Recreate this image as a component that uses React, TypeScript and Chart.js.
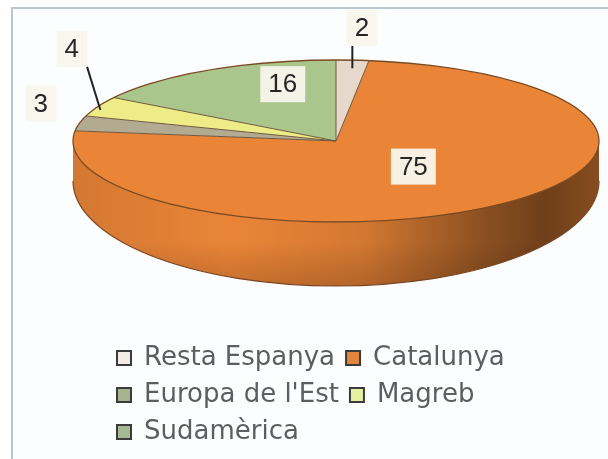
import React, { useEffect, useRef } from "react";
import { Chart, registerables } from "chart.js";

Chart.register(...registerables);

// ---- data ----
const categories = ["Resta Espanya", "Catalunya", "Europa de l'Est", "Magreb", "Sudamèrica"];
const values = [2, 75, 3, 4, 16];
const topColors = ["#e6d9cc", "#ea8537", "#b3aa92", "#eeec86", "#aac68c"];
const legendColors = ["#f1ece6", "#e3853c", "#a7b38f", "#e6f0a0", "#a9b894"];

// ---- layout constants for the projected (3D-looking) pie ----
const PIE = { cx: 336, cy: 141, rx: 263, ry: 81, drop: 40, ryBottom: 105 };
// label placement: radial factors (x, y) relative to the projected rim
const LABEL_FX = [1.57, 0.48, 1.15, 1.11, 0.42];
const LABEL_FY = [1.4, 0.4, 2.12, 2.67, 0.8];
const LEADERS = [true, false, false, true, false];

function shade(hex: string, f: number): string {
  const n = parseInt(hex.slice(1), 16);
  const c = (v: number) => Math.max(0, Math.min(255, Math.round(v * f)));
  return `rgb(${c((n >> 16) & 255)},${c((n >> 8) & 255)},${c(n & 255)})`;
}

const pie3d = {
  id: "pie3d",
  beforeDatasetsDraw(chart: any) {
    const meta = chart.getDatasetMeta(0);
    const arcs = meta.data;
    if (!arcs.length) return;
    const ctx: CanvasRenderingContext2D = chart.ctx;
    const { cx, cy, rx, ry, drop, ryBottom } = PIE;

    // side wall (front half only)
    arcs.forEach((arc: any, i: number) => {
      const { startAngle, endAngle } = arc.getProps(["startAngle", "endAngle"], true);
      for (const off of [-2 * Math.PI, 0, 2 * Math.PI]) {
        const a1 = Math.max(startAngle + off, 0);
        const a2 = Math.min(endAngle + off, Math.PI);
        if (a2 <= a1) continue;
        const base = topColors[i];
        const g = ctx.createLinearGradient(cx - rx, 0, cx + rx, 0);
        g.addColorStop(0, shade(base, 0.9));
        g.addColorStop(0.3, shade(base, 1.0));
        g.addColorStop(0.55, shade(base, 0.9));
        g.addColorStop(0.78, shade(base, 0.6));
        g.addColorStop(0.9, shade(base, 0.47));
        g.addColorStop(1, shade(base, 0.58));
        const path = () => {
          ctx.beginPath();
          ctx.ellipse(cx, cy, rx, ry, 0, a1, a2, false);
          ctx.ellipse(cx, cy + drop, rx, ryBottom, 0, a2, a1, true);
          ctx.closePath();
        };
        ctx.save();
        path();
        ctx.fillStyle = g;
        ctx.fill();
        const v = ctx.createLinearGradient(0, cy, 0, cy + drop + ryBottom);
        v.addColorStop(0, "rgba(0,0,0,0)");
        v.addColorStop(0.7, "rgba(0,0,0,0)");
        v.addColorStop(1, "rgba(40,15,0,0.18)");
        path();
        ctx.fillStyle = v;
        ctx.fill();
        ctx.restore();
      }
    });

    // outline of the bottom rim
    ctx.save();
    ctx.strokeStyle = "#7a4620";
    ctx.lineWidth = 1.2;
    ctx.beginPath();
    ctx.ellipse(cx, cy + drop, rx, ryBottom, 0, 0, Math.PI, false);
    ctx.stroke();
    ctx.restore();

    // transform so the library's arcs become the flattened top face
    const { x, y, outerRadius } = arcs[0].getProps(["x", "y", "outerRadius"], true);
    ctx.save();
    ctx.translate(cx, cy);
    ctx.scale(rx / outerRadius, ry / outerRadius);
    ctx.translate(-x, -y);
  },
  afterDatasetsDraw(chart: any) {
    const meta = chart.getDatasetMeta(0);
    const arcs = meta.data;
    if (!arcs.length) return;
    const ctx: CanvasRenderingContext2D = chart.ctx;
    ctx.restore();
    const { cx, cy, rx, ry } = PIE;

    // slice separators
    ctx.save();
    ctx.strokeStyle = "#6e5a40";
    ctx.lineWidth = 1;
    arcs.forEach((arc: any) => {
      const { startAngle } = arc.getProps(["startAngle"], true);
      ctx.beginPath();
      ctx.moveTo(cx, cy);
      ctx.lineTo(cx + rx * Math.cos(startAngle), cy + ry * Math.sin(startAngle));
      ctx.stroke();
    });
    // top rim
    ctx.strokeStyle = "#7a4a22";
    ctx.lineWidth = 1.3;
    ctx.beginPath();
    ctx.ellipse(cx, cy, rx, ry, 0, 0, Math.PI * 2);
    ctx.stroke();
    ctx.restore();

    // value labels
    ctx.save();
    ctx.font = "26px 'Liberation Sans', Arial, sans-serif";
    ctx.textAlign = "center";
    ctx.textBaseline = "middle";
    const dataset = chart.data.datasets[0];
    arcs.forEach((arc: any, i: number) => {
      const { startAngle, endAngle } = arc.getProps(["startAngle", "endAngle"], true);
      const mid = (startAngle + endAngle) / 2;
      const px = cx + rx * Math.cos(mid) * LABEL_FX[i];
      const py = cy + ry * Math.sin(mid) * LABEL_FY[i];
      const text = String(dataset.data[i]);
      const w = ctx.measureText(text).width + 16;
      const h = 36;
      const left = px - w / 2, top = py - h / 2;
      if (LEADERS[i]) {
        const rimX = cx + rx * Math.cos(mid) * 0.99;
        const rimY = cy + ry * Math.sin(mid) * 0.9;
        const sx = Math.max(left, Math.min(left + w, rimX));
        const sy = Math.max(top, Math.min(top + h, rimY));
        ctx.strokeStyle = "#222";
        ctx.lineWidth = 2;
        ctx.beginPath();
        ctx.moveTo(sx, sy);
        ctx.lineTo(rimX, rimY);
        ctx.stroke();
      }
      ctx.fillStyle = "rgba(248,246,236,0.95)";
      ctx.fillRect(left, top, w, h);
      ctx.fillStyle = "#262626";
      ctx.fillText(text, px, py + 1);
    });
    ctx.restore();
  },
};

export default function App() {
  const ref = useRef<HTMLCanvasElement | null>(null);
  useEffect(() => {
    if (!ref.current) return;
    const chart = new Chart(ref.current, {
      type: "pie",
      data: {
        labels: categories,
        datasets: [
          {
            data: values,
            backgroundColor: topColors,
            borderWidth: 0,
            clip: false as any,
          } as any,
        ],
      },
      options: {
        responsive: false,
        animation: false,
        events: [],
        layout: { padding: { left: 106, right: 22, top: 0, bottom: 4 } },
        plugins: {
          tooltip: { enabled: false },
          legend: {
            position: "bottom",
            align: "start",
            labels: {
              boxWidth: 14,
              boxHeight: 14,
              padding: 11,
              color: "#5e5e5e",
              font: { family: "'DejaVu Sans', sans-serif", size: 26 },
              generateLabels: () =>
                categories.map((c, i) => ({
                  text: c,
                  fillStyle: legendColors[i],
                  strokeStyle: "#3b3b3b",
                  lineWidth: 2,
                  hidden: false,
                  index: i,
                  fontColor: "#5e5e5e",
                })),
            },
          },
        },
      },
      plugins: [pie3d],
    });
    return () => chart.destroy();
  }, []);

  return (
    <div style={{ position: "fixed", left: 0, top: 0, width: 608, height: 459, background: "#ffffff", overflow: "hidden" }}>
      <div
        style={{
          position: "absolute",
          left: 11,
          top: 7,
          width: 600,
          height: 460,
          borderLeft: "2px solid #b7c6d0",
          borderTop: "2px solid #b7c6d0",
          background: "#fbfdfe",
        }}
      />
      <canvas ref={ref} width={608} height={459} style={{ position: "absolute", left: 0, top: 0, width: 608, height: 459 }} />
    </div>
  );
}
